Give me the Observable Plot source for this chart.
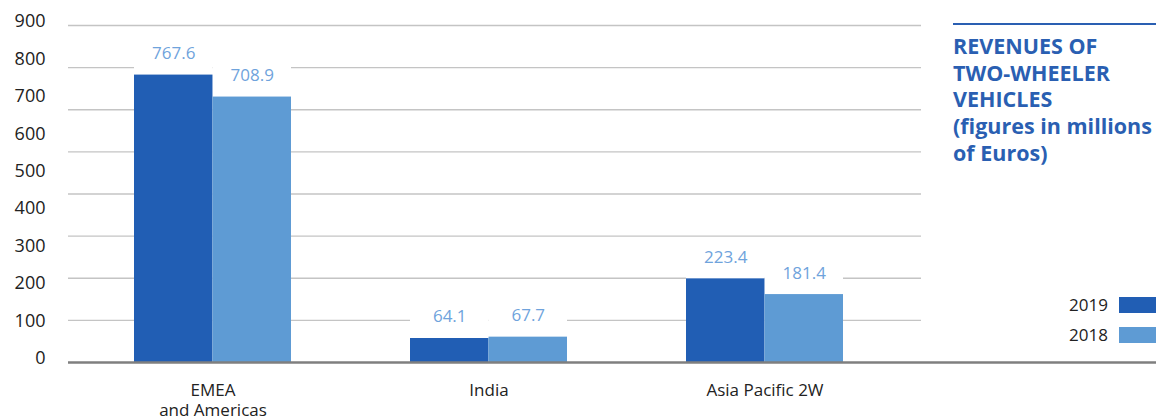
<!DOCTYPE html>
<html>
<head>
<meta charset="utf-8">
<script src="https://cdn.jsdelivr.net/npm/d3@7"></script>
<script src="https://cdn.jsdelivr.net/npm/@observablehq/plot@0.6"></script>
<style>
  html, body { margin: 0; padding: 0; background: #fff; }
  #wrap { position: relative; width: 1156px; height: 417px; font-family: "Open Sans", sans-serif; }
  #title { position: absolute; left: 953px; top: 23px; width: 203px; border-top: 2px solid #2a5fb2;
           padding-top: 8px; color: #2a5fb2; font-weight: 700; font-size: 21.5px; line-height: 26.7px; }
  .leg { position: absolute; right: 0; display: flex; align-items: center; font-size: 17px; color: #222; }
  .leg span.sw { display: inline-block; width: 37px; height: 16px; margin-left: 11px; }
</style>
</head>
<body>
<div id="wrap"></div>
<script>
const categories = ["EMEA\nand Americas", "India", "Asia Pacific 2W"];
const values2019 = [767.6, 64.1, 223.4];
const values2018 = [708.9, 67.7, 181.4];
const seriesNames = ["2019", "2018"];
const seriesColors = ["#215eb4", "#5e9bd4"];
const yTicks = [0, 100, 200, 300, 400, 500, 600, 700, 800, 900];
const gridValues = [112.5, 225, 337.5, 450, 562.5, 675, 787.5, 900];
const titleLines = ["REVENUES OF", "TWO-WHEELER", "VEHICLES", "(figures in millions", "of Euros)"];

const data = categories.map((c, i) => ({category: c, v2019: values2019[i], v2018: values2018[i]}));

const xRange = [13.6, 962.6];
const pad = 0.432;
const step = (xRange[1] - xRange[0]) / (categories.length + pad);
const bw = step * (1 - pad);

const chart = Plot.plot({
  width: 1156,
  height: 417,
  marginLeft: 68,
  marginRight: 235,
  marginTop: 25,
  marginBottom: 55,
  style: {fontFamily: "'Open Sans', sans-serif", color: "#222", background: "transparent"},
  x: {domain: categories, range: xRange, padding: pad},
  y: {domain: [0, 900]},
  marks: [
    Plot.ruleY(gridValues, {stroke: "#c4c4c4", strokeWidth: 1.3}),
    Plot.barY(data, {x: "category", y: "v2019", fill: "white", insetRight: bw / 2, insetTop: -34}),
    Plot.barY(data, {x: "category", y: "v2018", fill: "white", insetLeft: bw / 2, insetTop: -34}),
    Plot.barY(data, {x: "category", y: "v2019", fill: seriesColors[0], insetRight: bw / 2}),
    Plot.barY(data, {x: "category", y: "v2018", fill: seriesColors[1], insetLeft: bw / 2}),
    Plot.text(data, {x: "category", y: "v2019", text: d => d.v2019.toFixed(1), dx: -bw / 4, dy: -16,
      lineAnchor: "bottom", fill: "#6fa3dc", fontSize: 17}),
    Plot.text(data, {x: "category", y: "v2018", text: d => d.v2018.toFixed(1), dx: bw / 4, dy: -16,
      lineAnchor: "bottom", fill: "#6fa3dc", fontSize: 17}),
    Plot.axisY({ticks: yTicks, tickSize: 0, tickPadding: 23, fontSize: 18, dy: -4, label: null, tickFormat: d => String(d)}),
    Plot.axisX({tickSize: 0, tickPadding: 19, fontSize: 17, lineHeight: 1.18, label: null}),
    Plot.ruleY([0], {stroke: "#7f7f7f", strokeWidth: 2.5, insetRight: -235})
  ]
});

const wrap = document.getElementById("wrap");
wrap.appendChild(chart);

const title = document.createElement("div");
title.id = "title";
title.innerHTML = titleLines.map(t => t.replace(/&/g, "&amp;")).join("<br>");
wrap.appendChild(title);

seriesNames.forEach((name, i) => {
  const row = document.createElement("div");
  row.className = "leg";
  row.style.top = (293 + i * 30) + "px";
  const label = document.createElement("span");
  label.textContent = name;
  const sw = document.createElement("span");
  sw.className = "sw";
  sw.style.background = seriesColors[i];
  row.appendChild(label);
  row.appendChild(sw);
  wrap.appendChild(row);
});
</script>
</body>
</html>
